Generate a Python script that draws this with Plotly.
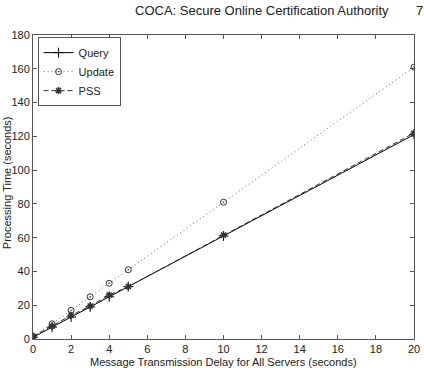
import plotly.graph_objects as go

delay = [0, 1, 2, 3, 4, 5, 10, 20]
query = [1, 7, 13, 19, 25, 31, 61, 121]
update = [1.5, 9, 17, 25, 33, 41, 81, 161]
pss = [1.5, 7.5, 14, 19.5, 26, 31, 61.5, 122]

x_ticks = list(range(0, 21, 2))
y_ticks = list(range(0, 181, 20))

FONT = "Liberation Sans, Arial"

fig = go.Figure()
fig.add_trace(go.Scatter(x=delay, y=query, name="Query", mode="lines+markers",
                         line=dict(color="black", width=1, dash="solid"),
                         marker=dict(symbol="cross-thin-open", size=7, line=dict(color="black", width=1))))
fig.add_trace(go.Scatter(x=delay, y=update, name="Update", mode="lines+markers",
                         line=dict(color="#666", width=1, dash="1px,3px"),
                         marker=dict(symbol="circle-dot", size=6, color="rgba(0,0,0,0)",
                                     line=dict(color="#333", width=1))))
fig.add_trace(go.Scatter(x=delay, y=pss, name="PSS", mode="lines+markers",
                         line=dict(color="#333", width=1, dash="5px,3px"),
                         marker=dict(symbol="asterisk-open", size=6, line=dict(color="black", width=1.5))))

axis_common = dict(showline=True, linecolor="#555", linewidth=1, mirror="ticks",
                   ticks="inside", ticklen=4, tickcolor="#555", showgrid=False, zeroline=False,
                   automargin=False,
                   tickfont=dict(family=FONT, size=11, color="#222"))
fig.update_xaxes(range=[0, 20], tickvals=x_ticks, **axis_common)
fig.update_yaxes(range=[0, 180], tickvals=y_ticks, **axis_common)

fig.add_annotation(text="Message Transmission Delay for All Servers (seconds)", xref="paper", yref="paper",
                   x=0.5, y=-0.075, xanchor="center", yanchor="middle", showarrow=False,
                   font=dict(family=FONT, size=11, color="#222"))
fig.add_annotation(text="Processing Time (seconds)", xref="paper", yref="paper",
                   x=-0.068, y=0.513, xanchor="center", yanchor="middle", showarrow=False,
                   textangle=-90, font=dict(family=FONT, size=11, color="#222"))

fig.add_annotation(text="COCA: Secure Online Certification Authority", xref="paper", yref="paper",
                   x=0.6, y=1.113, xanchor="center", yanchor="top", showarrow=False,
                   font=dict(family=FONT, size=13, color="#222"))
fig.add_annotation(text="7", xref="paper", yref="paper",
                   x=1.0, y=1.113, xanchor="left", yanchor="top", showarrow=False,
                   font=dict(family=FONT, size=13, color="#222"))

fig.update_layout(width=424, height=368, margin=dict(l=33, r=10, t=35, b=29),
                  paper_bgcolor="white", plot_bgcolor="white", showlegend=True,
                  legend=dict(x=0.012, y=0.993, xanchor="left", yanchor="top",
                              bordercolor="#555", borderwidth=1, bgcolor="white",
                              font=dict(family=FONT, size=11, color="#222"),
                              tracegroupgap=0, itemwidth=30))

fig.write_html("out.html")
